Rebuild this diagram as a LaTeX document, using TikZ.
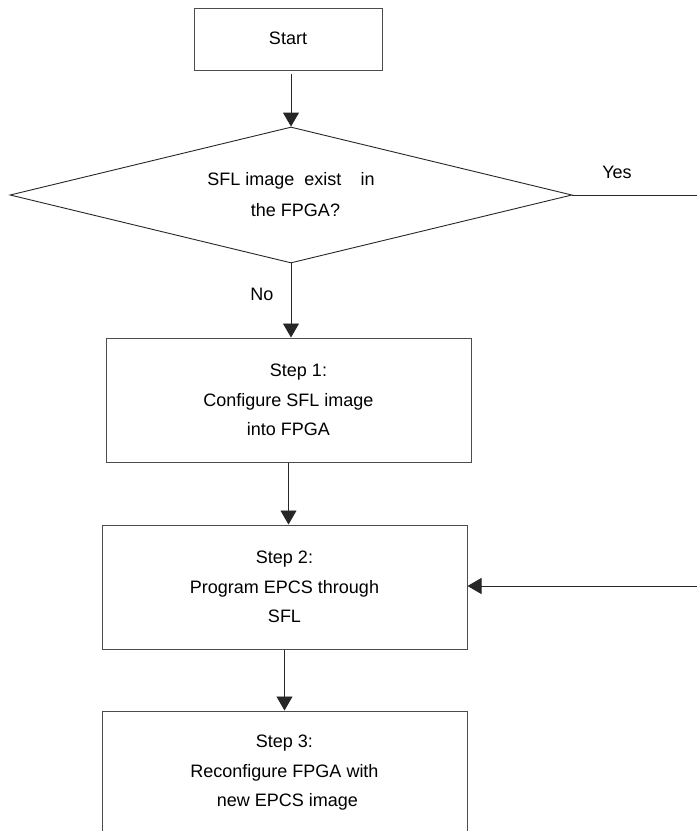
\documentclass[tikz,border=0pt]{standalone}
\usepackage{fontspec}
\setmainfont{Liberation Sans}
\usetikzlibrary{arrows.meta,shapes.geometric}

\tikzset{
  flowbox/.style={draw=black!70, line width=1pt, rectangle, inner sep=0pt,
    minimum width=365pt, minimum height=124pt, align=center,
    font=\fontsize{18}{29.5}\selectfont},
  startbox/.style={draw=black!70, line width=1pt, rectangle, inner sep=0pt,
    minimum width=188pt, minimum height=62pt, font=\fontsize{18}{22}\selectfont},
  decision/.style={draw=black!85, line width=0.9pt, diamond, inner sep=0pt,
    aspect=4.132, minimum width=562pt, minimum height=136pt, align=center,
    font=\fontsize{18}{31}\selectfont},
  lbl/.style={font=\fontsize{18}{22}\selectfont, inner sep=0pt},
  conn/.style={draw=black!85, line width=0.9pt},
  flow/.style={conn, -{Triangle[length=14pt,width=16pt]}},
}

\begin{document}
\begin{tikzpicture}[x=1pt, y=-1pt]
  \useasboundingbox (0,0) rectangle (697,831);
  \clip (0,0) rectangle (697,831);

  % process nodes
  \node[startbox] (start) at (288,39) {\raisebox{2pt}{Start}};
  \node[decision] (dec) at (291,195)
    {SFL image\hspace{5pt} exist\hspace{14pt} in\\\hspace*{9pt}the FPGA?};
  \node[flowbox] (s1) at (288.5,400)
    {\hspace*{20pt}Step 1:\\Configure SFL image\\into FPGA};
  \node[flowbox] (s2) at (284.5,587)
    {Step 2:\\Program EPCS through\\SFL};
  \node[flowbox] (s3) at (284.5,773)
    {Step 3:\\Reconfigure FPGA with\\\hspace*{6pt}new EPCS image};

  % free ends of the side lines
  \coordinate (yesend) at (697,195);
  \coordinate (backin) at (697,586);

  % connectors
  \draw[flow] ([yshift=-3pt]start.south -| dec.north) -- (dec.north);
  \draw[flow] (dec.south) -- (dec.south |- s1.north);
  \draw[flow] (s1.south) -- (s1.south |- s2.north);
  \draw[flow] (s2.south) -- (s2.south |- s3.north);
  \draw[conn] (dec.east) -- (yesend);
  \draw[flow] (backin) -- (s2.east |- backin);

  % branch labels
  \node[lbl] (yes) at (617,172) {Yes};
  \node[lbl] (no) at (262,294) {No};
\end{tikzpicture}
\end{document}
